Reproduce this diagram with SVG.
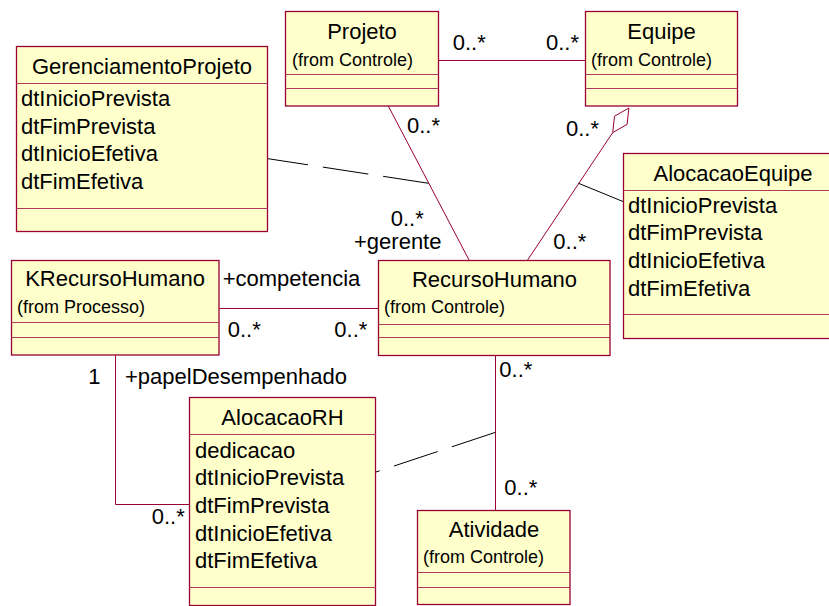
<svg xmlns="http://www.w3.org/2000/svg" width="829" height="606" viewBox="0 0 829 606">
  <style>
    .box { fill: #FFFFCC; stroke: #990033; stroke-width: 1.3; }
    .sep { stroke: #B03A5B; stroke-width: 1; fill: none; }
    .assoc { stroke: #990033; stroke-width: 1; fill: none; }
    .link { stroke: #000000; stroke-width: 1; fill: none; stroke-dasharray: 46 15; }
    text { font-family: "Liberation Sans", Arial, sans-serif; fill: #000000; }
    .name { font-size: 22px; text-anchor: middle; }
    .attr { font-size: 22px; }
    .pkg { font-size: 18px; }
    .lbl { font-size: 22px; }
  </style>
  <rect width="829" height="606" fill="#FFFFFF"/>

  <!-- associations -->
  <g id="connectors">
    <path class="assoc" d="M438.5 60.5 H585.5"/>
    <path class="assoc" d="M388.3 106 L469.3 260.5"/>
    <path class="assoc" d="M612.7 132.6 L527.3 260.5"/>
    <polygon class="assoc" fill="#FFFFFF" points="628.9,108 614.5,116.2 612.7,132.6 627.1,124.4" style="fill:#FFFFFF"/>
    <path class="assoc" d="M219 308.5 H378.5"/>
    <path class="assoc" d="M115.5 355 V504.5 H189.5"/>
    <path class="assoc" d="M495.5 355.5 V510.5"/>
    <!-- association class links -->
    <path class="link" d="M428.6 183.3 L268 158.7"/>
    <path class="link" d="M578.5 183.3 L623 201.5" style="stroke-dasharray:none"/>
    <path class="link" d="M495.5 432.3 L376 472"/>

    <text class="lbl" x="452.7" y="50">0..*</text>
    <text class="lbl" x="546" y="50">0..*</text>
    <text class="lbl" x="407" y="133">0..*</text>
    <text class="lbl" x="566" y="136">0..*</text>
    <text class="lbl" x="390.7" y="226">0..*</text>
    <text class="lbl" x="354" y="249.3">+gerente</text>
    <text class="lbl" x="553.3" y="249.3">0..*</text>
    <text class="lbl" x="222.7" y="286">+competencia</text>
    <text class="lbl" x="227.7" y="337.3">0..*</text>
    <text class="lbl" x="334.3" y="337.3">0..*</text>
    <text class="lbl" x="88.3" y="384.3">1</text>
    <text class="lbl" x="125" y="384.3">+papelDesempenhado</text>
    <text class="lbl" x="499.3" y="376.7">0..*</text>
    <text class="lbl" x="151.7" y="524">0..*</text>
    <text class="lbl" x="504.3" y="495">0..*</text>
  </g>

  <g id="GerenciamentoProjeto">
    <rect class="box" x="16.5" y="46.5" width="251" height="185"/>
    <path class="sep" d="M16.5 83.5 H267.5 M16.5 208.5 H267.5"/>
    <text class="name" x="142" y="74">GerenciamentoProjeto</text>
    <text class="attr" x="21" y="106">dtInicioPrevista</text>
    <text class="attr" x="21" y="133.6">dtFimPrevista</text>
    <text class="attr" x="21" y="161.2">dtInicioEfetiva</text>
    <text class="attr" x="21" y="188.8">dtFimEfetiva</text>
  </g>

  <g id="Projeto">
    <rect class="box" x="285.5" y="11.5" width="153" height="94.5"/>
    <path class="sep" d="M285.5 74.5 H438.5 M285.5 88.5 H438.5"/>
    <text class="name" x="362" y="39">Projeto</text>
    <text class="pkg" x="292" y="66">(from Controle)</text>
  </g>

  <g id="Equipe">
    <rect class="box" x="585.5" y="11.5" width="152" height="94.5"/>
    <path class="sep" d="M585.5 74.5 H737.5 M585.5 88.5 H737.5"/>
    <text class="name" x="661.5" y="39">Equipe</text>
    <text class="pkg" x="591" y="66">(from Controle)</text>
  </g>

  <g id="AlocacaoEquipe">
    <rect class="box" x="623.5" y="153.5" width="220" height="185"/>
    <path class="sep" d="M623.5 190.5 H843.5 M623.5 314.5 H843.5"/>
    <text class="name" x="733" y="180.5">AlocacaoEquipe</text>
    <text class="attr" x="628" y="212.7">dtInicioPrevista</text>
    <text class="attr" x="628" y="240.3">dtFimPrevista</text>
    <text class="attr" x="628" y="267.9">dtInicioEfetiva</text>
    <text class="attr" x="628" y="295.5">dtFimEfetiva</text>
  </g>

  <g id="KRecursoHumano">
    <rect class="box" x="11.5" y="260.5" width="207.5" height="94.5"/>
    <path class="sep" d="M11.5 322.5 H219 M11.5 337.5 H219"/>
    <text class="name" x="115" y="286">KRecursoHumano</text>
    <text class="pkg" x="17" y="313">(from Processo)</text>
  </g>

  <g id="RecursoHumano">
    <rect class="box" x="378.5" y="260.5" width="231.5" height="95"/>
    <path class="sep" d="M378.5 324.5 H610 M378.5 337.5 H610"/>
    <text class="name" x="494.5" y="286.5">RecursoHumano</text>
    <text class="pkg" x="384" y="313">(from Controle)</text>
  </g>

  <g id="AlocacaoRH">
    <rect class="box" x="189.5" y="397.5" width="186" height="208"/>
    <path class="sep" d="M189.5 434.5 H375.5 M189.5 587.5 H375.5"/>
    <text class="name" x="282.5" y="425">AlocacaoRH</text>
    <text class="attr" x="195" y="457.7">dedicacao</text>
    <text class="attr" x="195" y="485.3">dtInicioPrevista</text>
    <text class="attr" x="195" y="512.9">dtFimPrevista</text>
    <text class="attr" x="195" y="540.5">dtInicioEfetiva</text>
    <text class="attr" x="195" y="568.1">dtFimEfetiva</text>
  </g>

  <g id="Atividade">
    <rect class="box" x="417.5" y="510.5" width="152.5" height="94"/>
    <path class="sep" d="M417.5 572.5 H570 M417.5 587.5 H570"/>
    <text class="name" x="494" y="536.5">Atividade</text>
    <text class="pkg" x="423" y="563">(from Controle)</text>
  </g>
</svg>
